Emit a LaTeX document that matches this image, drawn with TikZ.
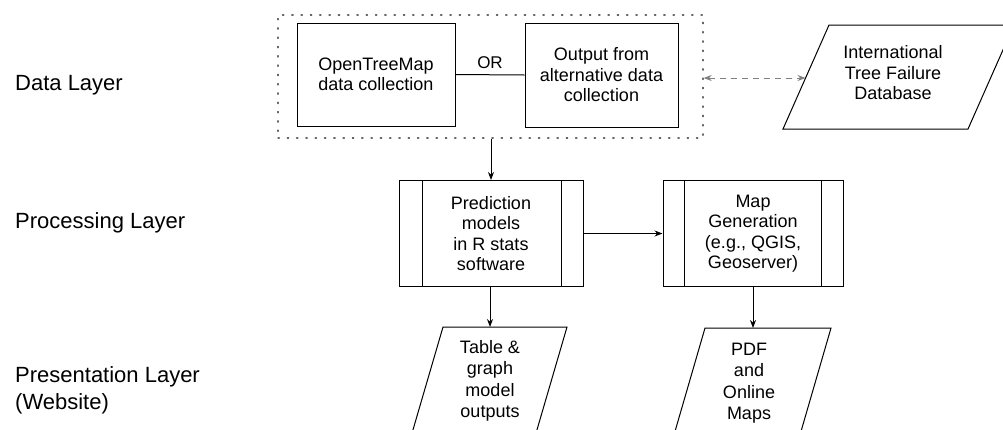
\documentclass[tikz,border=0pt]{standalone}
\usepackage{fontspec}
\setmainfont{Liberation Sans}
\usetikzlibrary{arrows.meta,fit}
\begin{document}
\begin{tikzpicture}[x=1pt,y=-1pt,
  layer/.style={anchor=west,font=\fontsize{22}{27}\selectfont,align=left,inner sep=0pt},
  box/.style={draw,line width=1pt,font=\fontsize{18}{20.5}\selectfont,align=center,inner sep=0pt},
  ptext/.style={font=\fontsize{18}{21.5}\selectfont,align=center,inner sep=0pt},
  shp/.style={draw,line width=1pt},
  arr/.style={line width=1pt,-{Stealth[length=8pt,width=6pt]}},
  darr/.style={line width=1pt,gray,dash pattern=on 6pt off 5pt,{Stealth[length=8pt,width=6pt]}-{Stealth[length=8pt,width=6pt]}},
  dotbox/.style={draw,gray!80!black,line width=1.3pt,dash pattern=on 1.3pt off 8pt,line cap=round}]
\useasboundingbox (0,0) rectangle (1003,429);
\fill[white] (0,0) rectangle (1003,429);

% layer labels
\node[layer] (ldata) at (15,85) {Data Layer};
\node[layer] (lproc) at (15,223) {Processing Layer};
\node[layer] (lpres) at (15,390) {Presentation Layer\\(Website)};

% data layer
\node[box,minimum width=158pt,minimum height=103pt] (otm) at (376,74.5) {OpenTreeMap\\data collection};
\node[box,minimum width=153pt,minimum height=104pt] (alt) at (601.5,75) {Output from\\alternative data\\collection};
\draw[line width=1pt] (otm.east) -- node[above=6pt,font=\fontsize{17}{20}\selectfont,inner sep=0pt] (or) {OR} (alt.west);
\coordinate (dbnw) at (278,15);
\coordinate (dbse) at (703,138);
\node[dotbox,fit=(dbnw)(dbse),inner sep=0pt] (dbox) {};

% ITFD parallelogram
\draw[shp] (783,129) -- (829,25) -- (1014,25) -- (968,129) -- cycle;
\node[ptext,font=\fontsize{18}{20.5}\selectfont] (itfd) at (893,73) {International\\Tree Failure\\Database};
\coordinate (itfdin) at (805.5,78);
\draw[darr] (dbox.east |- itfdin) -- (itfdin);

% processing layer
\node[box,minimum width=184pt,minimum height=106pt] (pred) at (491,233.5) {Prediction\\models\\in R stats\\software};
\draw[line width=1pt] ([xshift=24pt]pred.north west) -- ([xshift=24pt]pred.south west);
\draw[line width=1pt] ([xshift=-22pt]pred.north east) -- ([xshift=-22pt]pred.south east);
\node[box,minimum width=180pt,minimum height=106pt] (map) at (753,233.5) {Map\\Generation\\(e.g., QGIS,\\Geoserver)};
\draw[line width=1pt] ([xshift=22pt]map.north west) -- ([xshift=22pt]map.south west);
\draw[line width=1pt] ([xshift=-22pt]map.north east) -- ([xshift=-22pt]map.south east);

\draw[arr] (dbox.south -| pred.north) -- (pred.north);
\draw[arr] (pred.east) -- (map.west);

% presentation layer
\draw[shp] (443,327) -- (567,327) -- (534,440) -- (410,440) -- cycle;
\node[ptext] (table) at (490,381) {Table \&\\graph\\model\\outputs};
\coordinate (tabletop) at (490,327);
\draw[shp] (705,328) -- (831,328) -- (798.5,440) -- (672.5,440) -- cycle;
\node[ptext] (pdf) at (749,383) {PDF\\and\\Online\\Maps};
\coordinate (pdftop) at (753,328);

\draw[arr] (pred.south -| tabletop) -- (tabletop);
\draw[arr] (map.south) -- (pdftop);
\end{tikzpicture}
\end{document}
